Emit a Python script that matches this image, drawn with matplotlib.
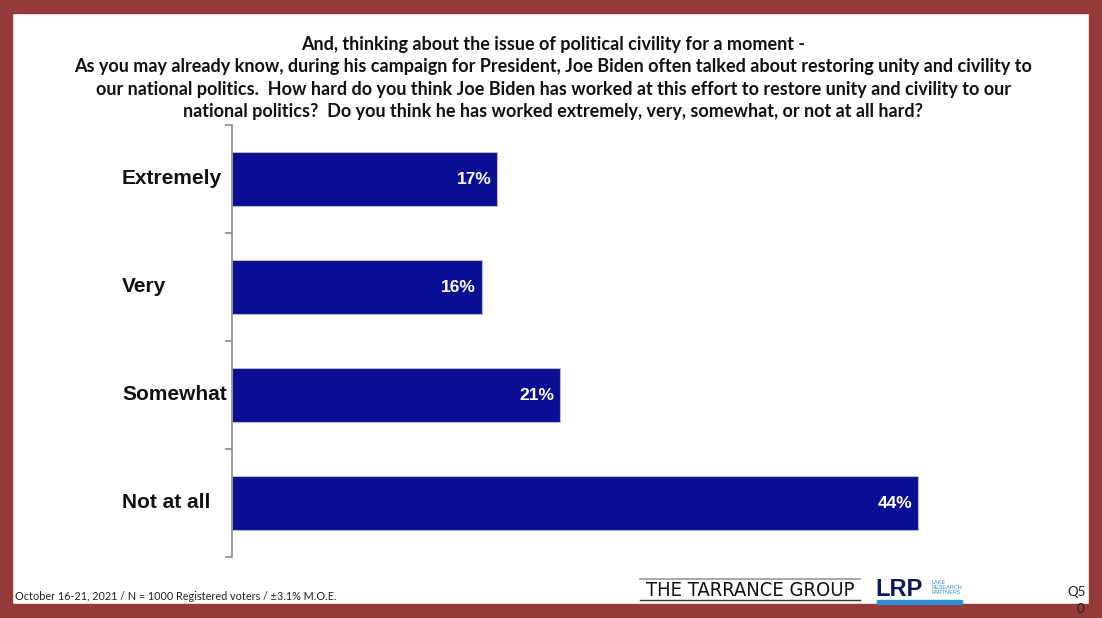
import matplotlib
matplotlib.use("Agg")
import matplotlib.pyplot as plt
from matplotlib.patches import Rectangle
from matplotlib.lines import Line2D
from matplotlib.transforms import blended_transform_factory

categories = ["Extremely", "Very", "Somewhat", "Not at all"]
values = [17, 16, 21, 44]
value_labels = ["17%", "16%", "21%", "44%"]

title_lines = [
    "And, thinking about the issue of political civility for a moment -",
    "As you may already know, during his campaign for President, Joe Biden often talked about restoring unity and civility to",
    "our national politics.  How hard do you think Joe Biden has worked at this effort to restore unity and civility to our",
    "national politics?  Do you think he has worked extremely, very, somewhat, or not at all hard?",
]
footer_note = "October 16-21, 2021 / N = 1000 Registered voters / \u00b13.1% M.O.E."

W, H = 1102, 618
fig = plt.figure(figsize=(W / 100, H / 100), dpi=100)
fig.patch.set_facecolor("white")

border = "#953a3a"
def fx(px): return px / W
def fy(py): return 1 - py / H

# border bands
for (x0, y0, x1, y1) in [(0, 0, W, 13), (0, 0, 12, H), (1089, 0, W, H), (0, 604, W, H)]:
    fig.patches.append(Rectangle((fx(x0), fy(y1)), fx(x1 - x0), (y1 - y0) / H,
                                 transform=fig.transFigure, color=border, zorder=0))

# title
for i, line in enumerate(title_lines):
    fig.text(fx(553), fy(44.5 + i * 22.3), line, ha="center", va="center",
             fontsize=13.0, fontweight="bold", family="Lato", color="#111111")

# axes
ax_left, ax_right, ax_top, ax_bot = 232, 1012, 125, 557
ax = fig.add_axes([fx(ax_left), fy(ax_bot), fx(ax_right - ax_left), (ax_bot - ax_top) / H])
ax.set_facecolor("none")
y = list(range(len(categories)))
ax.barh(y, values, height=0.5, color="#0a0f94", edgecolor="#b8b8c8", linewidth=0.8)
ax.set_xlim(0, 50)
ax.set_ylim(len(categories) - 0.5, -0.5)
for sp in ["top", "right", "bottom"]:
    ax.spines[sp].set_visible(False)
ax.spines["left"].set_color("#8c8c8c")
ax.spines["left"].set_linewidth(1.2)
ax.set_xticks([])
ax.set_yticks([-0.5, 0.5, 1.5, 2.5, 3.5])
ax.set_yticklabels([])
ax.tick_params(axis="y", length=5, color="#8c8c8c", width=1.2, direction="out")

for yi, v, lab in zip(y, values, value_labels):
    ax.text(v - 0.35, yi, lab, ha="right", va="center", color="white",
            fontsize=12.5, fontweight="bold", family="Liberation Sans")
tr = blended_transform_factory(fig.transFigure, ax.transData)
for yi, cat in zip(y, categories):
    ax.text(fx(122), yi, cat, transform=tr, ha="left", va="center", fontsize=15,
            fontweight="bold", family="Liberation Sans", color="#111111")

# footer
fig.text(fx(15), fy(597), footer_note, ha="left", va="center", fontsize=7.8,
         family="Lato", color="#222222")
# Tarrance group logo
fig.lines.append(Line2D([fx(640), fx(860)], [fy(579), fy(579)], transform=fig.transFigure,
                        color="#999999", linewidth=1.2))
fig.lines.append(Line2D([fx(640), fx(860)], [fy(600), fy(600)], transform=fig.transFigure,
                        color="#333333", linewidth=1.0))
fig.text(fx(750), fy(590), "THE TARRANCE GROUP", ha="center", va="center",
         fontsize=14.5, family="DejaVu Sans", fontstretch="condensed", color="#111111")
fig.text(fx(875), fy(589), "LRP", ha="left", va="center", fontsize=17,
         fontweight="heavy", family="Liberation Sans", color="#0b1a5a")
for k, t in enumerate(["LAKE", "RESEARCH", "PARTNERS"]):
    fig.text(fx(931), fy(582 + k * 5.5), t, ha="left", va="center", fontsize=4.0,
             family="Liberation Sans", color="#2f8fd0")
fig.patches.append(Rectangle((fx(877), fy(604)), fx(85), 4 / H, transform=fig.transFigure,
                             color="#2f8fd0", zorder=1))
fig.text(fx(1077), fy(592), "Q5", ha="center", va="center", fontsize=9.5,
         family="Lato", color="#222222")
fig.text(fx(1080), fy(609), "0", ha="center", va="center", fontsize=9.5,
         family="Lato", color="#222222")

fig.savefig("out.png", dpi=100, facecolor="white")
